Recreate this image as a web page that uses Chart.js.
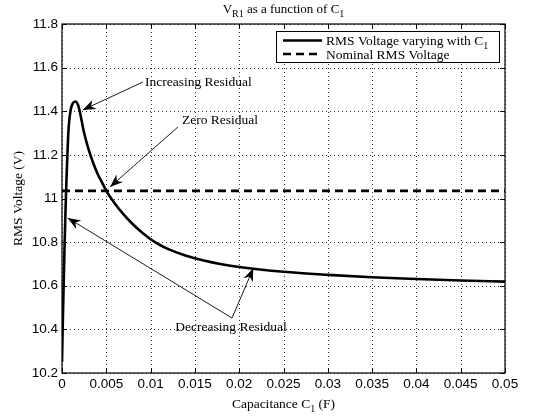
<!DOCTYPE html>
<html>
<head>
<meta charset="utf-8">
<script src="https://cdn.jsdelivr.net/npm/chart.js@4/dist/chart.umd.min.js"></script>
<style>
  html, body { margin: 0; padding: 0; background: #fff; }
  #wrap { width: 537px; height: 416px; }
</style>
</head>
<body>
<div id="wrap"><canvas id="c" width="537" height="416"></canvas></div>
<script>
// ---- data ----
const capacitance = [0, 0.0001, 0.0002, 0.0003, 0.0004, 0.0005, 0.0006, 0.0007, 0.0008, 0.001, 0.0012, 0.0015, 0.0018, 0.002, 0.0025, 0.003, 0.0035, 0.004, 0.0045, 0.005, 0.006, 0.007, 0.008, 0.009, 0.010, 0.011, 0.012, 0.014, 0.016, 0.018, 0.020, 0.025, 0.030, 0.035, 0.040, 0.045, 0.050];
const rmsVoltage  = [10.25, 10.45, 10.63, 10.80, 10.95, 11.08, 11.19, 11.29, 11.35, 11.41, 11.435, 11.445, 11.43, 11.40, 11.30, 11.225, 11.165, 11.115, 11.075, 11.035, 10.975, 10.925, 10.882, 10.845, 10.813, 10.788, 10.768, 10.738, 10.716, 10.699, 10.686, 10.664, 10.650, 10.639, 10.631, 10.624, 10.619];
const nominalX = [0, 0.05];
const nominalV = [11.035, 11.035];
const xTicks = [0, 0.005, 0.01, 0.015, 0.02, 0.025, 0.03, 0.035, 0.04, 0.045, 0.05];
const yTicks = [10.2, 10.4, 10.6, 10.8, 11, 11.2, 11.4, 11.6, 11.8];
const seriesNames = ["RMS Voltage varying with C", "Nominal RMS Voltage"];
const annotationLabels = ["Increasing Residual", "Zero Residual", "Decreasing Residual"];

// ---- styling ----
const SERIF = "'Liberation Serif', 'Times New Roman', serif";
const SANS = "'Liberation Sans', Arial, sans-serif";

// annotations: text anchor and arrows in data units
const annotations = [
  { text: annotationLabels[0], tx: 0.00937, ty: 11.534, align: 'left',
    arrows: [[0.00914, 11.534, 0.00234, 11.406]] },
  { text: annotationLabels[1], tx: 0.01354, ty: 11.36, align: 'left',
    arrows: [[0.01309, 11.328, 0.00542, 11.053]] },
  { text: annotationLabels[2], tx: 0.01907, ty: 10.411, align: 'center',
    arrows: [[0.01919, 10.452, 0.02159, 10.680], [0.01919, 10.452, 0.00064, 10.911]] }
];

function drawRich(ctx, parts, x, y, align, size) {
  const subSize = Math.round(size * 0.75);
  let total = 0;
  const widths = parts.map(p => {
    ctx.font = (p.sub ? subSize : size) + 'px ' + SERIF;
    const w = ctx.measureText(p.t).width;
    total += w;
    return w;
  });
  let cx = align === 'center' ? x - total / 2 : (align === 'right' ? x - total : x);
  ctx.textAlign = 'left';
  ctx.textBaseline = 'alphabetic';
  parts.forEach((p, i) => {
    ctx.font = (p.sub ? subSize : size) + 'px ' + SERIF;
    ctx.fillText(p.t, cx, p.sub ? y + size * 0.3 : y);
    cx += widths[i];
  });
}

function arrow(ctx, x1, y1, x2, y2) {
  ctx.beginPath();
  ctx.moveTo(x1, y1);
  ctx.lineTo(x2, y2);
  ctx.lineWidth = 0.9;
  ctx.strokeStyle = '#000';
  ctx.stroke();
  const ang = Math.atan2(y2 - y1, x2 - x1);
  const L = 13, W = 5, N = 9;
  const ux = Math.cos(ang), uy = Math.sin(ang);
  const px = -uy, py = ux;
  ctx.beginPath();
  ctx.moveTo(x2, y2);
  ctx.lineTo(x2 - ux * L + px * W, y2 - uy * L + py * W);
  ctx.lineTo(x2 - ux * N, y2 - uy * N);
  ctx.lineTo(x2 - ux * L - px * W, y2 - uy * L - py * W);
  ctx.closePath();
  ctx.fillStyle = '#000';
  ctx.fill();
}

const dottedGrid = {
  id: 'dottedGrid',
  beforeDatasetsDraw(chart) {
    const ctx = chart.ctx;
    const a = chart.chartArea;
    const xs = chart.scales.x, ys = chart.scales.y;
    ctx.save();
    ctx.strokeStyle = 'rgba(0,0,0,0.8)';
    ctx.lineWidth = 1;
    ctx.setLineDash([1, 3]);
    xTicks.forEach(v => {
      const px = Math.round(xs.getPixelForValue(v)) + 0.5;
      ctx.beginPath();
      ctx.moveTo(px, a.bottom); ctx.lineTo(px, a.top);
      ctx.stroke();
    });
    yTicks.forEach(v => {
      const py = Math.round(ys.getPixelForValue(v)) + 0.5;
      ctx.beginPath();
      ctx.moveTo(a.left, py); ctx.lineTo(a.right, py);
      ctx.stroke();
    });
    ctx.restore();
  }
};

const decor = {
  id: 'decor',
  afterDatasetsDraw(chart) {
    const ctx = chart.ctx;
    const a = chart.chartArea;
    const xs = chart.scales.x, ys = chart.scales.y;
    ctx.save();
    // frame
    ctx.strokeStyle = '#000';
    ctx.lineWidth = 1.2;
    ctx.strokeRect(a.left, a.top, a.right - a.left, a.bottom - a.top);
    // inward tick marks on all four sides
    ctx.lineWidth = 1;
    const T = 5;
    xTicks.forEach(v => {
      const px = Math.round(xs.getPixelForValue(v)) + 0.5;
      ctx.beginPath();
      ctx.moveTo(px, a.bottom); ctx.lineTo(px, a.bottom - T);
      ctx.moveTo(px, a.top); ctx.lineTo(px, a.top + T);
      ctx.stroke();
    });
    yTicks.forEach(v => {
      const py = Math.round(ys.getPixelForValue(v)) + 0.5;
      ctx.beginPath();
      ctx.moveTo(a.left, py); ctx.lineTo(a.left + T, py);
      ctx.moveTo(a.right, py); ctx.lineTo(a.right - T, py);
      ctx.stroke();
    });
    // annotations
    ctx.fillStyle = '#000';
    annotations.forEach(an => {
      an.arrows.forEach(ar => {
        arrow(ctx, xs.getPixelForValue(ar[0]), ys.getPixelForValue(ar[1]),
                   xs.getPixelForValue(ar[2]), ys.getPixelForValue(ar[3]));
      });
      ctx.font = '13.5px ' + SERIF;
      ctx.textAlign = an.align;
      ctx.textBaseline = 'middle';
      ctx.fillStyle = '#000';
      ctx.fillText(an.text, xs.getPixelForValue(an.tx), ys.getPixelForValue(an.ty));
    });
    // legend
    const lx = a.right - 229, ly = a.top + 7, lw = 223, lh = 31;
    ctx.fillStyle = '#fff';
    ctx.fillRect(lx, ly, lw, lh);
    ctx.strokeStyle = '#000';
    ctx.lineWidth = 1;
    ctx.strokeRect(lx + 0.5, ly + 0.5, lw, lh);
    const rows = [ly + 9.5, ly + 23];
    ctx.lineWidth = 2.6;
    ctx.beginPath();
    ctx.setLineDash([]);
    ctx.moveTo(lx + 7, rows[0]); ctx.lineTo(lx + 46, rows[0]);
    ctx.stroke();
    ctx.beginPath();
    ctx.setLineDash([8, 5]);
    ctx.moveTo(lx + 7, rows[1]); ctx.lineTo(lx + 46, rows[1]);
    ctx.stroke();
    ctx.setLineDash([]);
    ctx.fillStyle = '#000';
    drawRich(ctx, [{ t: seriesNames[0] }, { t: '1', sub: true }], lx + 50, rows[0] + 4.5, 'left', 13.5);
    drawRich(ctx, [{ t: seriesNames[1] }], lx + 50, rows[1] + 4.5, 'left', 13.5);
    // title
    const cx = (a.left + a.right) / 2;
    drawRich(ctx, [{ t: 'V' }, { t: 'R1', sub: true }, { t: ' as a function of C' }, { t: '1', sub: true }], cx, 13, 'center', 13);
    // x label
    drawRich(ctx, [{ t: 'Capacitance C' }, { t: '1', sub: true }, { t: ' (F)' }], cx, 407.5, 'center', 13.5);
    // y label
    ctx.save();
    ctx.translate(22, (a.top + a.bottom) / 2);
    ctx.rotate(-Math.PI / 2);
    drawRich(ctx, [{ t: 'RMS Voltage (V)' }], 0, 0, 'center', 13.5);
    ctx.restore();
    ctx.restore();
  }
};

const fmt = v => String(+Number(v).toFixed(4));

new Chart(document.getElementById('c'), {
  type: 'line',
  data: {
    datasets: [
      {
        label: seriesNames[0],
        data: capacitance.map((x, i) => ({ x: x, y: rmsVoltage[i] })),
        borderColor: '#000',
        borderWidth: 2.6,
        pointRadius: 0,
        cubicInterpolationMode: 'monotone',
        fill: false
      },
      {
        label: seriesNames[1],
        data: nominalX.map((x, i) => ({ x: x, y: nominalV[i] })),
        borderColor: '#000',
        borderWidth: 2.6,
        borderDash: [8, 5],
        pointRadius: 0,
        fill: false
      }
    ]
  },
  options: {
    responsive: false,
    devicePixelRatio: 1,
    animation: false,
    layout: { padding: { top: 24, right: 32, left: 0, bottom: 0 } },
    plugins: { legend: { display: false }, title: { display: false }, tooltip: { enabled: false } },
    scales: {
      x: {
        type: 'linear',
        min: 0, max: 0.05,
        afterBuildTicks: s => { s.ticks = xTicks.map(v => ({ value: v })); },
        afterFit: s => { s.height = 43; },
        ticks: {
          callback: fmt,
          color: '#000',
          font: { family: SANS, size: 13.5 },
          padding: 3,
          maxRotation: 0,
          autoSkip: false
        },
        grid: { display: false, drawTicks: false },
        border: { display: false }
      },
      y: {
        type: 'linear',
        min: 10.2, max: 11.8,
        afterBuildTicks: s => { s.ticks = yTicks.map(v => ({ value: v })); },
        afterFit: s => { s.width = 62; },
        ticks: {
          callback: fmt,
          color: '#000',
          font: { family: SANS, size: 13.5 },
          padding: 4,
          autoSkip: false
        },
        grid: { display: false, drawTicks: false },
        border: { display: false }
      }
    }
  },
  plugins: [dottedGrid, decor]
});
</script>
</body>
</html>
